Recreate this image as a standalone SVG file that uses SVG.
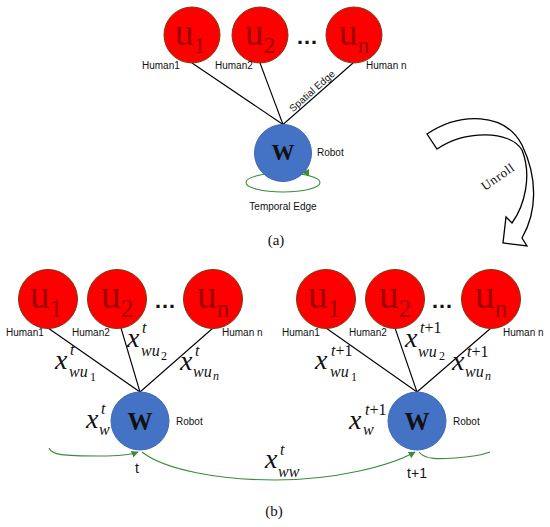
<svg xmlns="http://www.w3.org/2000/svg" width="550" height="527" viewBox="0 0 550 527">
<style>
.bg{fill:#ffffff}
.hum{fill:#ff0000;stroke:#7a3a10;stroke-width:1}
.rob{fill:#4472c4;stroke:#4068b8;stroke-width:1}
.edge{stroke:#000;stroke-width:1.1;fill:none}
.tmp{stroke:#3c8c3c;stroke-width:1.1;fill:none}
.lbl{font-family:"Liberation Sans",Arial,sans-serif;font-size:10px;fill:#111}
.ut{font-family:"Liberation Serif","Times New Roman",serif;fill:#a00000}
.wt{font-family:"Liberation Serif","Times New Roman",serif;font-weight:bold;fill:#111;text-anchor:middle}
.dots{font-family:"Liberation Sans",Arial,sans-serif;font-weight:bold;font-size:22px;fill:#111;text-anchor:middle}
.mx{font-family:"Liberation Serif","Times New Roman",serif;font-style:italic;font-size:28px;fill:#111}
.ms{font-family:"Liberation Serif","Times New Roman",serif;font-style:italic;font-size:16px;fill:#111}
.mn{font-family:"Liberation Serif","Times New Roman",serif;font-size:12px;fill:#111}
.mni{font-family:"Liberation Serif","Times New Roman",serif;font-style:italic;font-size:12px;fill:#111}
.cap{font-family:"Liberation Serif","Times New Roman",serif;font-size:15px;fill:#111;text-anchor:middle}
.tl{font-family:"Liberation Sans",Arial,sans-serif;font-size:14px;fill:#111;text-anchor:middle}
</style>
<defs>
<marker id="ga" viewBox="0 0 10 10" refX="9" refY="5" markerWidth="7" markerHeight="7" markerUnits="userSpaceOnUse" orient="auto">
<path d="M0,0 L10,5 L0,10 Z" fill="#3c8c3c"/>
</marker>
</defs>
<rect class="bg" x="0" y="0" width="550" height="527"/>

<!-- ===== (a) ===== -->
<g id="connectors-a">
<line class="edge" x1="192" y1="63" x2="283" y2="124.5"/>
<line class="edge" x1="260" y1="63" x2="283" y2="124.5"/>
<line class="edge" x1="353" y1="63" x2="283" y2="124.5"/>
<ellipse class="tmp" cx="283" cy="182.5" rx="37" ry="9.5"/>
<text class="lbl" transform="translate(312,91) rotate(-41.5)" x="0" y="3.5" text-anchor="middle">Spatial Edge</text>
<text class="lbl" x="283" y="210" text-anchor="middle">Temporal Edge</text>
</g>
<g id="a-u1"><circle class="hum" cx="192" cy="35" r="28"/><text class="ut" x="190" y="45" text-anchor="middle" font-size="38">u<tspan font-size="23" dy="8">1</tspan></text><text class="lbl" x="142" y="69">Human1</text></g>
<g id="a-u2"><circle class="hum" cx="260" cy="35" r="28"/><text class="ut" x="260" y="45" text-anchor="middle" font-size="38">u<tspan font-size="23" dy="8">2</tspan></text><text class="lbl" x="215" y="69">Human2</text></g>
<text class="dots" x="307" y="44">…</text>
<g id="a-un"><circle class="hum" cx="354" cy="35" r="28"/><text class="ut" x="354" y="45" text-anchor="middle" font-size="38">u<tspan font-size="23" dy="8">n</tspan></text><text class="lbl" x="366" y="69">Human n</text></g>
<g id="a-w"><circle class="rob" cx="283" cy="153" r="28.5"/><text class="wt" x="283" y="160" font-size="23">W</text><text class="lbl" x="317" y="156">Robot</text></g>
<path d="M309,169 L302,172.5 L309,176.5 Z" fill="#3c8c3c"/>
<text class="cap" x="276" y="245">(a)</text>

<!-- Unroll arrow -->
<g id="unroll">
<path d="M427,134 C460,112 505,112 522,145 C538,178 537,212 522,238 L527,246 L503,243 L506,217 L512,223 C525,205 532,175 522,150 C510,130 465,130 437,149 Z" fill="#fff" stroke="#000" stroke-width="1.3" stroke-linejoin="miter"/>
<text transform="translate(498,177) rotate(-35)" x="0" y="4" text-anchor="middle" font-family="'Liberation Serif','Times New Roman',serif" font-size="13" letter-spacing="0.6" fill="#111">Unroll</text>
</g>

<!-- ===== (b) left ===== -->
<g id="connectors-b">
<line class="edge" x1="48" y1="328" x2="140" y2="392"/>
<line class="edge" x1="121" y1="328" x2="140" y2="392"/>
<line class="edge" x1="213" y1="328" x2="140" y2="392"/>
<line class="edge" x1="326" y1="328" x2="417" y2="392"/>
<line class="edge" x1="395" y1="328" x2="417" y2="392"/>
<line class="edge" x1="491" y1="328" x2="417" y2="392"/>
<path class="tmp" d="M49,448 C52,455 62,456 100,456 C118,456 130,455 138,452" marker-end="url(#ga)"/>
<path class="tmp" d="M142,452 C165,470 220,480 275,480 C335,480 390,466 415,452" marker-end="url(#ga)"/>
<path class="tmp" d="M419,452 C425,460 440,459 455,458 C470,457 482,455 490,452"/>
</g>

<g id="b1-u1"><circle class="hum" cx="48" cy="299" r="29.5"/><text class="ut" x="46" y="308" text-anchor="middle" font-size="40">u<tspan font-size="25" dy="9">1</tspan></text><text class="lbl" x="6" y="336">Human1</text></g>
<g id="b1-u2"><circle class="hum" cx="117" cy="299" r="29.5"/><text class="ut" x="117" y="308" text-anchor="middle" font-size="40">u<tspan font-size="25" dy="9">2</tspan></text><text class="lbl" x="72" y="336">Human2</text></g>
<text class="dots" x="165" y="308">…</text>
<g id="b1-un"><circle class="hum" cx="213" cy="299" r="29.5"/><text class="ut" x="213" y="308" text-anchor="middle" font-size="40">u<tspan font-size="25" dy="9">n</tspan></text><text class="lbl" x="222" y="336">Human n</text></g>
<g id="b1-w"><circle class="rob" cx="140" cy="421" r="29"/><text class="wt" x="140" y="430" font-size="25">W</text><text class="lbl" x="176" y="425">Robot</text></g>

<g id="b1-labels">
<text class="mx" x="55" y="369">x</text><text class="ms" x="70" y="355">t</text><text class="ms" x="69" y="377">wu</text><text class="mn" x="90" y="381">1</text>
<text class="mx" x="127" y="347">x</text><text class="ms" x="142" y="333">t</text><text class="ms" x="141" y="356">wu</text><text class="mn" x="161" y="360">2</text>
<text class="mx" x="180" y="370">x</text><text class="ms" x="195" y="356">t</text><text class="ms" x="193" y="377">wu</text><text class="mni" x="213" y="380">n</text>
<text class="mx" x="86" y="428">x</text><text class="ms" x="101" y="414">t</text><text class="ms" x="99" y="435">w</text>
<text class="mx" x="265" y="468">x</text><text class="ms" x="280" y="455">t</text><text class="ms" x="278" y="477">ww</text>
<text class="tl" x="137" y="473">t</text>
</g>

<!-- ===== (b) right ===== -->
<g id="b2-u1"><circle class="hum" cx="326" cy="299" r="29.5"/><text class="ut" x="324" y="308" text-anchor="middle" font-size="40">u<tspan font-size="25" dy="9">1</tspan></text><text class="lbl" x="282" y="336">Human1</text></g>
<g id="b2-u2"><circle class="hum" cx="395" cy="299" r="29.5"/><text class="ut" x="395" y="308" text-anchor="middle" font-size="40">u<tspan font-size="25" dy="9">2</tspan></text><text class="lbl" x="349" y="336">Human2</text></g>
<text class="dots" x="442" y="308">…</text>
<g id="b2-un"><circle class="hum" cx="491" cy="299" r="29.5"/><text class="ut" x="491" y="308" text-anchor="middle" font-size="40">u<tspan font-size="25" dy="9">n</tspan></text><text class="lbl" x="503" y="336">Human n</text></g>
<g id="b2-w"><circle class="rob" cx="417" cy="421" r="29"/><text class="wt" x="417" y="430" font-size="25">W</text><text class="lbl" x="453" y="425">Robot</text></g>

<g id="b2-labels">
<text class="mx" x="315" y="369">x</text><text class="ms" x="331" y="356" font-size="15">t<tspan font-style="normal">+1</tspan></text><text class="ms" x="330" y="377">wu</text><text class="mn" x="351" y="381">1</text>
<text class="mx" x="405" y="347">x</text><text class="ms" x="420" y="333" font-size="15">t<tspan font-style="normal">+1</tspan></text><text class="ms" x="418" y="357">wu</text><text class="mn" x="439" y="360">2</text>
<text class="mx" x="452" y="370">x</text><text class="ms" x="467" y="357" font-size="15">t<tspan font-style="normal">+1</tspan></text><text class="ms" x="465" y="377">wu</text><text class="mni" x="485" y="380">n</text>
<text class="mx" x="349" y="429">x</text><text class="ms" x="365" y="415" font-size="15">t<tspan font-style="normal">+1</tspan></text><text class="ms" x="363" y="435">w</text>
<text class="tl" x="417" y="478">t+1</text>
</g>
<text class="cap" x="274" y="516">(b)</text>
</svg>
